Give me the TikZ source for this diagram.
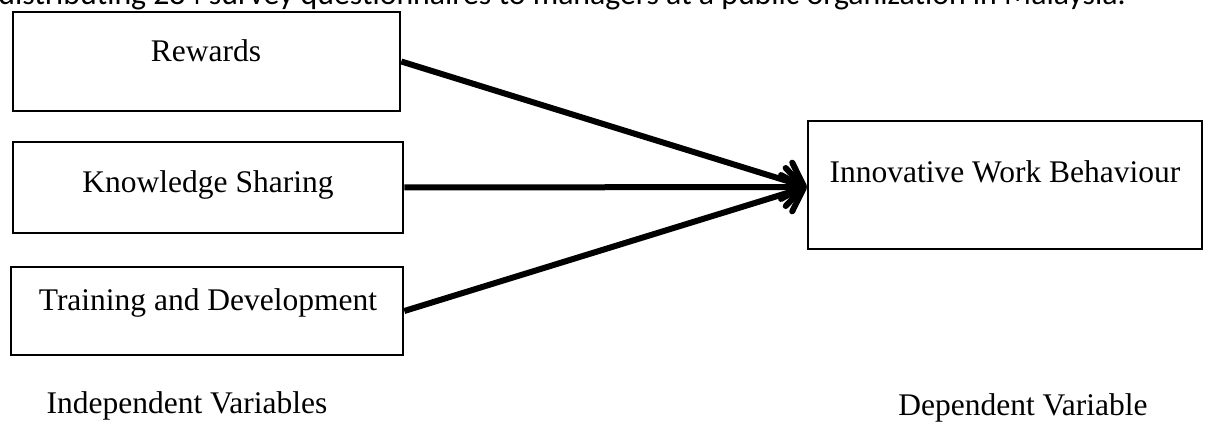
\documentclass[tikz,border=0pt]{standalone}
\usepackage{fontspec}
\setmainfont{Liberation Serif}
\newfontfamily\topfont{Carlito}
\usetikzlibrary{arrows.meta}
\begin{document}
\begin{tikzpicture}[x=1pt,y=-1pt,
  varbox/.style={draw=black,line width=2.6pt,inner sep=0pt,rectangle},
  lbl/.style={anchor=base,inner sep=0pt,font=\fontsize{31.5}{36}\selectfont},
  link/.style={line width=6pt,-{Straight Barb[length=18pt,width=38pt,line cap=round,line join=round]}}]
\clip (0,0) rectangle (1221,422);
\fill[white] (0,0) rectangle (1221,422);
\node[anchor=base east,inner sep=0pt,font=\topfont\fontsize{31.8}{36}\selectfont] (toptext) at (1126,5)
  {distributing 284 survey questionnaires to managers at a public organization in Malaysia.};
\node[varbox,minimum width=387pt,minimum height=99pt] (rew) at (206.5,61.5) {};
\node[varbox,minimum width=390pt,minimum height=91pt] (ks) at (208,187.5) {};
\node[varbox,minimum width=392pt,minimum height=88pt] (td) at (207,311) {};
\node[varbox,minimum width=394pt,minimum height=128pt] (iwb) at (1005,185) {};
\node[lbl] (rewt) at (206,62) {Rewards};
\node[lbl] (kst) at (208,193) {Knowledge Sharing};
\node[lbl] (tdt) at (208,310) {Training and Development};
\node[lbl] (iwbt) at (1005,183) {Innovative Work Behaviour};
\node[lbl] (indep) at (187,413) {Independent Variables};
\node[lbl] (dep) at (1023,415) {Dependent Variable};
\coordinate (tip) at ([yshift=-2pt]iwb.west);
\draw[link] (rew.east) -- (tip);
\draw[link] (ks.east) -- (tip);
\draw[link] (td.east) -- (tip);
\end{tikzpicture}
\end{document}
